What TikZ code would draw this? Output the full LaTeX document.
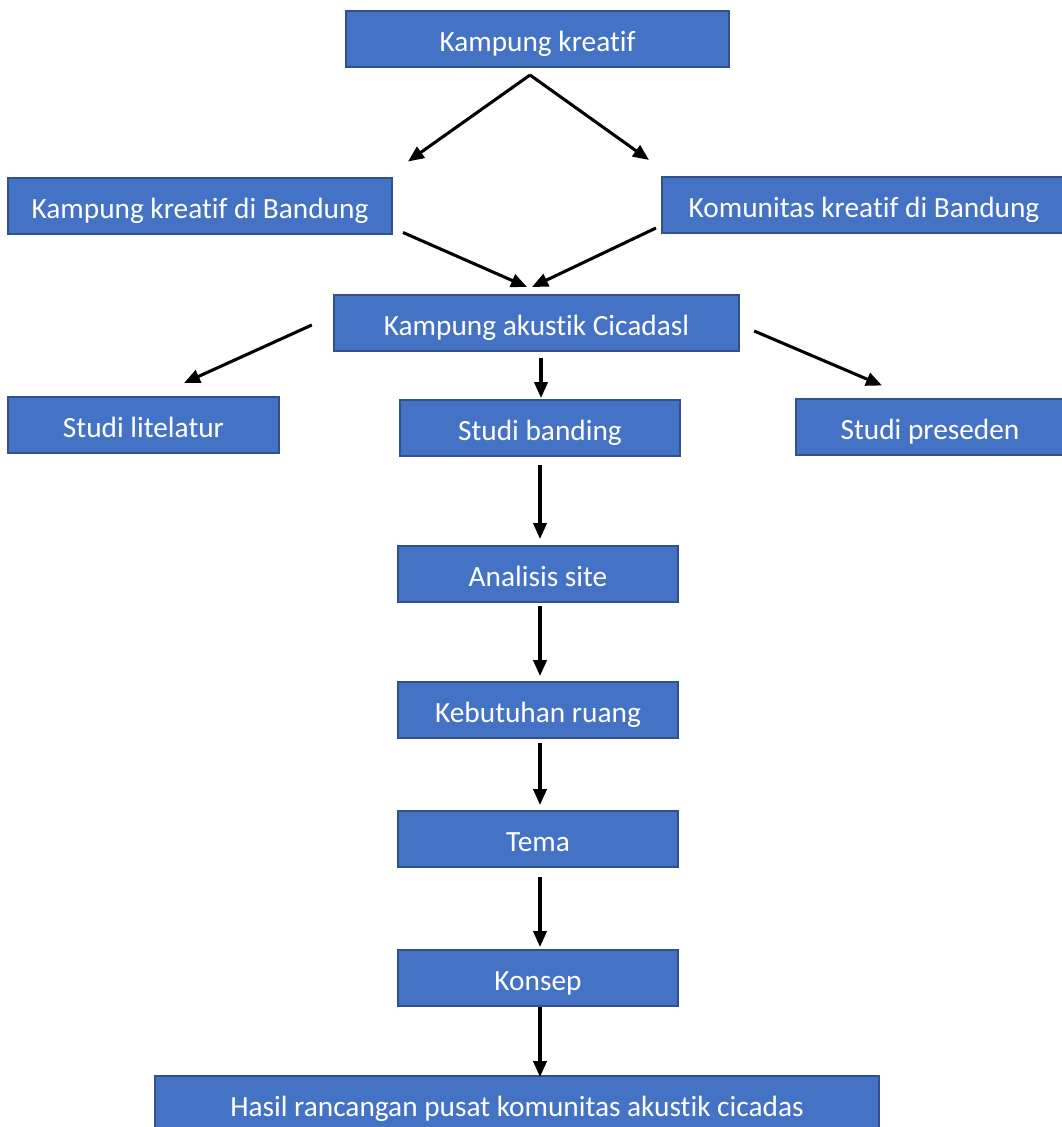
\documentclass[tikz,border=0pt]{standalone}
\usepackage{fontspec}
\setmainfont[Ligatures=NoCommon]{Carlito}
\usetikzlibrary{arrows.meta}
\definecolor{boxfill}{HTML}{4472C4}
\definecolor{boxline}{HTML}{2F528F}
\tikzset{
  box/.style={rectangle, fill=boxfill, draw=boxline, line width=1.5pt, text=white,
    minimum height=42pt, inner sep=0pt, text height=21pt, text depth=2pt,
    font=\fontsize{22}{24}\selectfont},
  arr/.style={draw=black, line width=2.3pt, -{Triangle[length=12pt,width=10pt]}}
}
\begin{document}
\begin{tikzpicture}[x=0.75pt,y=-0.75pt]
\useasboundingbox (0,0) rectangle (1061,1127);
\node[box, minimum width=287pt] (k1) at (537.5,39) {Kampung kreatif};
\node[box, minimum width=288pt] (k2) at (200,205.5) {Kampung kreatif di Bandung};
\node[box, minimum width=303pt] (k3) at (864,205) {Komunitas kreatif di Bandung};
\node[box, minimum width=304pt] (k4) at (536.5,323) {Kampung akustik Cicadasl};
\node[box, minimum width=203pt] (s1) at (143.5,425) {Studi litelatur};
\node[box, minimum width=210pt] (s2) at (540,428) {Studi banding};
\node[box, minimum width=201pt] (s3) at (930,426.5) {Studi preseden};
\node[box, minimum width=210pt] (an) at (538,574) {Analisis site};
\node[box, minimum width=210pt] (kb) at (538,710) {Kebutuhan ruang};
\node[box, minimum width=210pt] (tm) at (538,839) {Tema};
\node[box, minimum width=210pt] (ks) at (538,978) {Konsep};
\node[box, minimum width=543pt] (hs) at (517,1104) {Hasil rancangan pusat komunitas akustik cicadas};
\draw[arr] ([shift={(-7.5,7)}]k1.south) -- ([shift={(15,-15)}]k2.north east);
\draw[arr] ([shift={(-7.5,7)}]k1.south) -- ([shift={(-12,-16)}]k3.north west);
\draw[arr] ([shift={(10,-2)}]k2.south east) -- ([shift={(-9.5,-7)}]k4.north);
\draw[arr] ([shift={(-5,-6)}]k3.south west) -- ([shift={(-4.5,-7)}]k4.north);
\draw[arr] ([shift={(-21,2)}]k4.west) -- ([shift={(40.5,-13)}]s1.north);
\draw[arr] ([shift={(14,8)}]k4.east) -- ([shift={(87,-12)}]s3.north west);
\draw[arr] ([shift={(4.5,6)}]k4.south) -- ([shift={(1,-1)}]s2.north);
\draw[arr] ([shift={(0,8)}]s2.south) -- ([shift={(2,-6)}]an.north);
\draw[arr] ([shift={(2,3)}]an.south) -- ([shift={(2,-5)}]kb.north);
\draw[arr] ([shift={(2,4)}]kb.south) -- ([shift={(2,-5)}]tm.north);
\draw[arr] ([shift={(2,9)}]tm.south) -- ([shift={(2,-2)}]ks.north);
\draw[arr] ([shift={(2,0)}]ks.south) -- ([shift={(23,2)}]hs.north);
\end{tikzpicture}
\end{document}
